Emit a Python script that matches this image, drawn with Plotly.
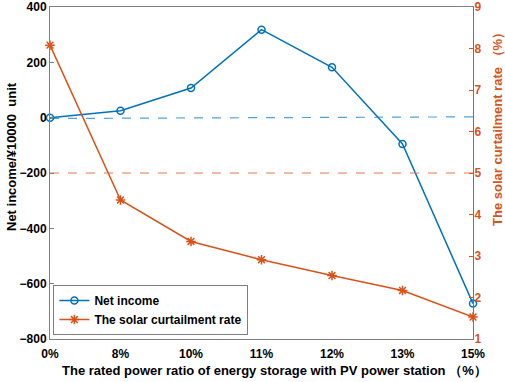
import plotly.graph_objects as go

categories = ["0%", "8%", "10%", "11%", "12%", "13%", "15%"]
net_income = [0, 25, 107, 318, 182, -95, -672]
curtailment = [8.08, 4.35, 3.35, 2.91, 2.53, 2.17, 1.53]
net_ref = [-3, 3]
curt_ref = [5, 5]

xpos = list(range(len(categories)))
blue = "#0072BD"
orange = "#D95319"
FAM = "Liberation Sans, Arial"
font = dict(family=FAM, size=12, color="black", weight="bold")

fig = go.Figure()
fig.add_trace(go.Scatter(x=[xpos[0], xpos[-1]], y=net_ref, mode="lines",
                         line=dict(color="#4DA3DB", width=1.2, dash="dash"), showlegend=False, hoverinfo="skip"))
fig.add_trace(go.Scatter(x=[xpos[0], xpos[-1]], y=curt_ref, mode="lines", yaxis="y2",
                         line=dict(color="#E8784A", width=1.2, dash="dash"), showlegend=False, hoverinfo="skip"))
fig.add_trace(go.Scatter(x=xpos, y=net_income, mode="lines+markers", name="Net income",
                         line=dict(color=blue, width=1.5),
                         marker=dict(symbol="circle-open", size=7, color=blue, line=dict(width=1.5)),
                         cliponaxis=False))
fig.add_trace(go.Scatter(x=xpos, y=curtailment, mode="lines+markers", name="The solar curtailment rate",
                         yaxis="y2",
                         line=dict(color=orange, width=1.5),
                         marker=dict(symbol="asterisk-open", size=8, color=orange, line=dict(width=1.5, color=orange)),
                         cliponaxis=False))

# plot area: x 50..473, y 7..339
W, H = 505, 382
L, R, T, B = 50, 32, 7, 43
pw, ph = W - L - R, H - T - B

def px(xp):
    return (xp - L) / pw

def py(yp):
    return (H - B - yp) / ph

fig.update_layout(
    width=W, height=H,
    margin=dict(l=L, r=R, t=T, b=B, autoexpand=False),
    paper_bgcolor="white", plot_bgcolor="white",
    font=font,
    showlegend=True,
    legend=dict(x=0.008, y=0.012, xanchor="left", yanchor="bottom",
                bordercolor="#7f7f7f", borderwidth=1, bgcolor="white",
                font=dict(family=FAM, size=12, color="black", weight="bold"),
                tracegroupgap=0, itemwidth=30),
    xaxis=dict(range=[0, 6], tickmode="array", tickvals=xpos, ticktext=categories,
               showline=True, linecolor="#808080", linewidth=1, mirror=True,
               ticks="", showgrid=False, zeroline=False, automargin=False,
               ticklabeloverflow="allow", ticklabelstandoff=4,
               tickfont=font),
    yaxis=dict(range=[-800, 400], tickvals=[400, 200, 0, -200, -400, -600, -800],
               showline=True, linecolor="#808080", linewidth=1,
               ticks="inside", ticklen=4, tickcolor="#808080",
               showgrid=False, zeroline=False, tickfont=font, automargin=False,
               ticklabeloverflow="allow"),
    yaxis2=dict(range=[1, 9], tickvals=list(range(1, 10)), overlaying="y", side="right",
                showline=True, linecolor=orange, linewidth=1,
                ticks="inside", ticklen=4, tickcolor=orange,
                showgrid=False, zeroline=False, automargin=False,
                ticklabeloverflow="allow", ticklabelstandoff=-2,
                tickfont=dict(family=FAM, size=12, color=orange, weight="bold")),
    annotations=[
        dict(text="The rated power ratio of energy storage with PV power station （%）",
             xref="paper", yref="paper", x=px(274), y=py(370), xanchor="center", yanchor="middle",
             showarrow=False, font=dict(family=FAM, size=13, color="black", weight="bold")),
        dict(text="Net income/¥10000  unit",
             xref="paper", yref="paper", x=px(12), y=py(157), xanchor="center", yanchor="middle",
             textangle=-90, showarrow=False, font=dict(family=FAM, size=13, color="black", weight="bold")),
        dict(text="The solar curtailment rate （%）",
             xref="paper", yref="paper", x=px(497), y=py(126), xanchor="center", yanchor="middle",
             textangle=-90, showarrow=False, font=dict(family=FAM, size=13, color=orange, weight="bold")),
    ],
)

fig.write_html("out.html", config={"displayModeBar": False},
               post_script="document.body.style.margin='0';document.body.style.padding='0';"
                           "document.body.style.overflow='hidden';")
